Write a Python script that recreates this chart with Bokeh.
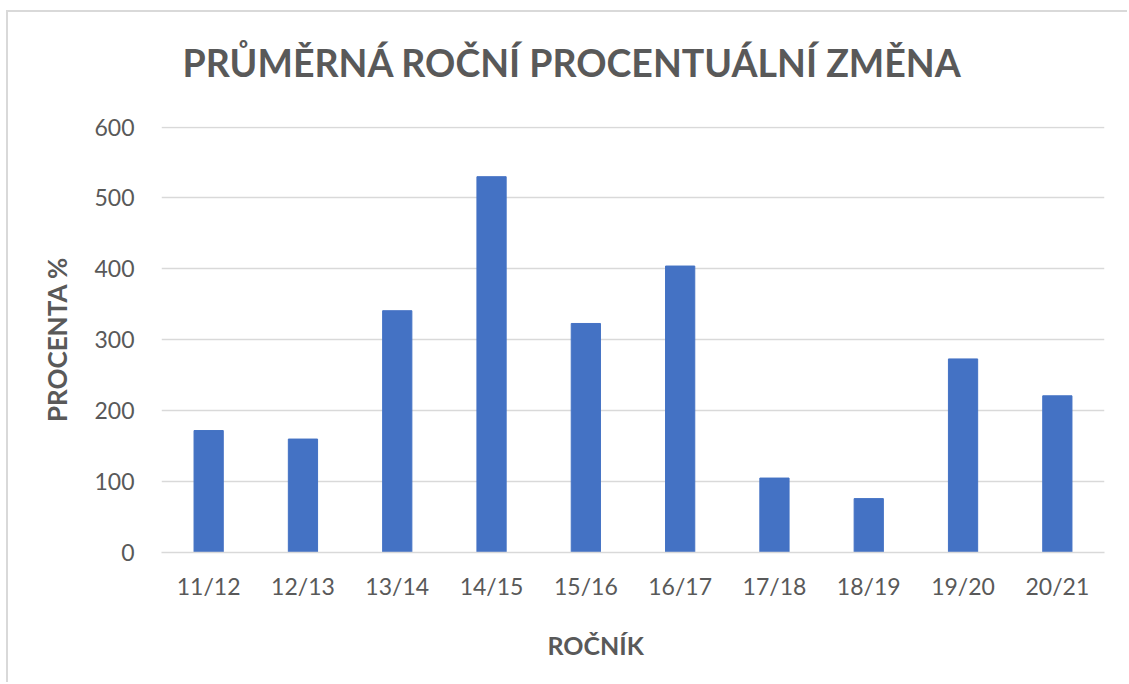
from bokeh.plotting import figure
from bokeh.models import Title, FixedTicker, Range1d
from bokeh.embed import file_html
from bokeh.resources import INLINE

years = ["11/12", "12/13", "13/14", "14/15", "15/16", "16/17", "17/18", "18/19", "19/20", "20/21"]
values = [172, 160, 341, 530, 323, 404, 105, 76, 273, 221]
y_ticks = [0, 100, 200, 300, 400, 500, 600]

TXT = "#595959"
FONT = "Lato"

p = figure(x_range=years, y_range=Range1d(0, 600.8), width=1121, height=672,
           output_backend="svg", toolbar_location=None,
           min_border_left=153, min_border_right=25, min_border_top=114, min_border_bottom=132)
p.styles = {"margin-left": "6px", "margin-top": "10px",
            "border-left": "2px solid #D9D9D9", "border-top": "2px solid #D9D9D9"}

p.vbar(x=years, top=values, width=0.31, color="#4472C4")

p.outline_line_color = None
p.xgrid.grid_line_color = None
p.ygrid.grid_line_color = "#D9D9D9"
p.ygrid.grid_line_width = 1.5
p.yaxis.ticker = FixedTicker(ticks=y_ticks)

for ax in (p.xaxis, p.yaxis):
    ax.major_tick_line_color = None
    ax.minor_tick_line_color = None
    ax.major_tick_out = 0
    ax.major_tick_in = 0
    ax.major_label_text_font = FONT
    ax.major_label_text_font_size = "23px"
    ax.major_label_text_color = TXT
p.yaxis.axis_line_color = None
p.xaxis.axis_line_color = "#D9D9D9"
p.xaxis.axis_line_width = 1.5
p.yaxis.major_label_standoff = 27
p.xaxis.major_label_standoff = 19

p.yaxis.axis_label = "PROCENTA %"
p.yaxis.axis_label_text_font = FONT
p.yaxis.axis_label_text_font_style = "bold"
p.yaxis.axis_label_text_font_size = "26px"
p.yaxis.axis_label_text_color = TXT
p.yaxis.axis_label_standoff = 18

# spacer between frame and chart title
spacer = Title(text=" ", text_font_size="2px", standoff=36)
p.add_layout(spacer, "above")
title = Title(text="PRŮMĚRNÁ ROČNÍ PROCENTUÁLNÍ ZMĚNA", align="left", offset=21,
              text_font=FONT, text_font_style="bold", text_font_size="37.5px", text_color=TXT,
              standoff=4)
p.add_layout(title, "above")

xlab = Title(text="ROČNÍK", align="left", offset=386,
             text_font=FONT, text_font_style="bold", text_font_size="25px", text_color=TXT,
             standoff=50)
p.add_layout(xlab, "below")

open("out.html", "w").write(file_html(p, INLINE))
